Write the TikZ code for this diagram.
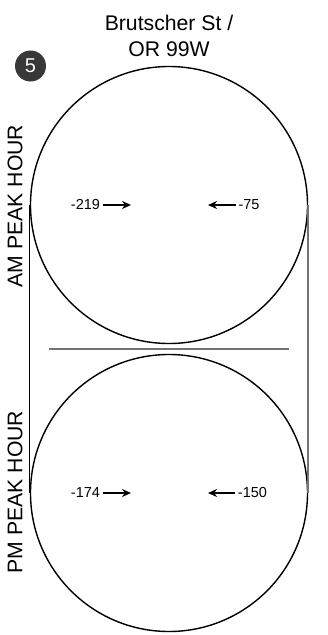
\documentclass[tikz,border=0pt]{standalone}
\usepackage{fontspec}
\setmainfont{Liberation Sans}
\usetikzlibrary{arrows.meta, positioning}
\tikzset{
  peakcircle/.style={circle, draw=black, line width=1.4pt, minimum size=277pt, inner sep=0pt},
  volume/.style={font=\fontsize{14.5}{16}\selectfont, inner sep=0pt, outer sep=2.5pt},
  peaklabel/.style={font=\fontsize{21.2}{24}\selectfont, rotate=90, inner sep=0pt},
  arrow/.style={-{Stealth[length=9pt,width=8pt]}, line width=1.5pt},
  sideline/.style={draw=black!55, line width=1.5pt},
}

\begin{document}
\begin{tikzpicture}[x=1pt, y=-1pt]
  \useasboundingbox (0,0) rectangle (328,635);

  \node[peakcircle] (am) at (169,205) {};
  \node[peakcircle] (pm) at (169,493) {};
  \node[align=center, font=\fontsize{21.2}{26}\selectfont, inner sep=0pt] (title) at (169,36) {Brutscher St /\\OR 99W};
  \node[circle, fill=black!78, text=white, minimum size=31pt, inner sep=0pt, font=\fontsize{20}{20}\selectfont] (num) at (30.5,66) {5};

  \node[peaklabel] (amlabel) at (15,206) {AM PEAK HOUR};
  \node[peaklabel] (pmlabel) at (15,492) {PM PEAK HOUR};

  % am volumes
  \node[volume] (amwest) at (85.5,205) {-219};
  \node[volume] (ameast) at (249,205) {-75};
  \coordinate (amwesthead) at (131,205);
  \coordinate (ameasthead) at (208,205);
  \draw[arrow] (amwest) -- (amwesthead);
  \draw[arrow] (ameast) -- (ameasthead);

  % pm volumes
  \node[volume] (pmwest) at (85.5,493) {-174};
  \node[volume] (pmeast) at (252.5,493) {-150};
  \coordinate (pmwesthead) at (131,493);
  \coordinate (pmeasthead) at (208,493);
  \draw[arrow] (pmwest) -- (pmwesthead);
  \draw[arrow] (pmeast) -- (pmeasthead);

  % frame between the circles
  \draw[draw=black, line width=0.9pt] (am.west) -- (pm.west);
  \draw[sideline] (am.east) -- (pm.east);
  \coordinate (ruleleft) at (49,349);
  \coordinate (ruleright) at (289,349);
  \draw[sideline] (ruleleft) -- (ruleright);
\end{tikzpicture}
\end{document}
